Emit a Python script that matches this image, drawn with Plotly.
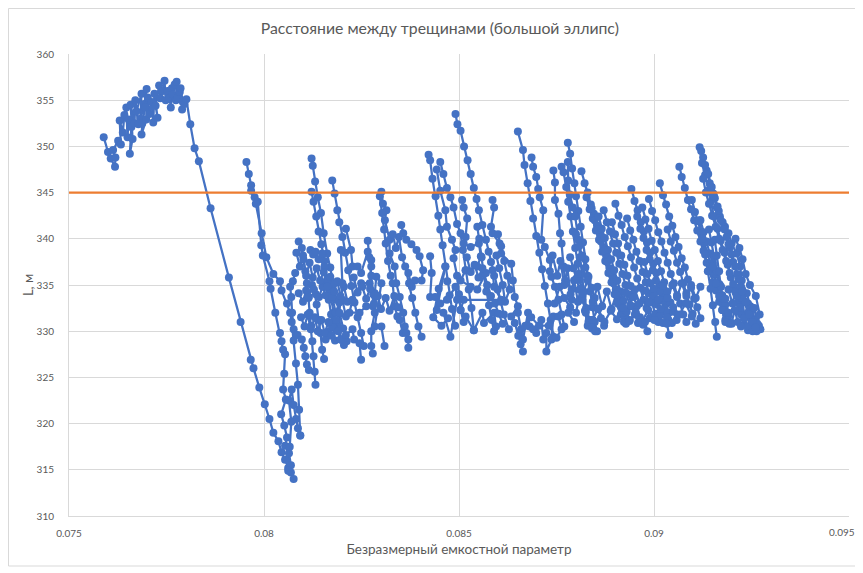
import plotly.graph_objects as go

# ---- data: hand-read segments (x = dimensionless capacity parameter, y = L, m) ----
sec_a = [(0.07589,351.0),(0.07600,349.4),(0.07607,348.7),(0.07618,347.8),(0.07619,348.8),(0.07613,349.6),
         (0.07626,350.6),(0.07633,350.2),(0.07630,352.8),(0.07638,351.5),(0.07642,353.4),(0.07647,354.2),
         (0.07650,351.0),(0.07653,352.9),(0.07660,352.1),(0.07656,349.2),(0.07663,350.8),(0.07658,354.5),
         (0.07668,352.5),(0.07670,355.0),(0.07678,352.4),(0.07673,353.8),(0.07686,355.7),(0.07683,353.0),
         (0.07693,354.6),(0.07699,356.2),(0.07695,354.2),(0.07688,352.5),(0.07686,351.3),(0.07698,352.9),
         (0.07702,355.3),(0.07706,353.5),(0.07712,354.8),(0.07716,352.6),(0.07719,355.7),(0.07727,353.1),
         (0.07722,354.4),(0.07731,356.6),(0.07734,355.2),(0.07741,356.0),(0.07745,357.1),(0.07748,355.0),
         (0.07753,356.0),(0.07758,355.2),(0.07761,354.2),(0.07764,356.3),(0.07771,356.7),(0.07766,355.6),
         (0.07774,355.0),(0.07776,357.0),(0.07779,355.3),(0.07784,355.9),(0.07786,356.3),(0.07792,354.8),
         (0.07790,354.0),(0.07796,354.6),(0.07801,355.1),(0.07811,352.4),(0.07822,349.8),(0.07833,348.4),
         (0.07863,343.3),(0.07910,335.8),(0.07940,331.0),(0.07966,326.9),(0.07973,326.0),(0.07988,323.9),
         (0.08002,322.1),(0.08014,320.5),(0.08024,319.0),(0.08037,318.1),(0.08045,316.9),(0.08054,316.1),
         (0.08062,315.2),(0.08069,314.7),(0.08076,314.0)]

sec_b1 = [(0.07955,348.3),(0.07961,347.0),(0.07967,345.8),(0.07976,344.5),(0.07984,344.0),(0.07993,339.3),
          (0.07997,338.2),(0.08014,335.4),(0.08017,334.6),(0.08029,332.0),(0.08041,329.8),(0.08045,328.9),
          (0.08049,328.0),(0.08054,327.5),(0.08052,325.4),(0.08049,323.7),(0.08056,322.6),(0.08044,321.0),
          (0.08052,319.8),(0.08059,318.5),(0.08054,317.6),(0.08064,316.8),(0.08069,315.5),(0.08062,314.9),
          (0.08066,317.5),(0.08070,320.2),(0.08064,322.5),(0.08071,323.7),(0.08076,322.0),(0.08082,320.5),
          (0.08087,319.5),(0.08093,318.7)]
sec_b2 = [(0.07967,345.2),(0.07979,343.8),(0.07994,340.6),(0.08006,338.0),(0.08024,336.2),(0.08041,335.4),
          (0.08045,334.4),(0.08059,333.0),(0.08067,332.0),(0.08071,331.0),(0.08076,329.0),(0.08082,326.5),
          (0.08087,324.2),(0.08090,321.5),(0.08093,318.7)]

sec_c1 = [(0.08122,348.7),(0.08125,347.9),(0.08131,346.2),(0.08138,344.5),(0.08146,342.8),(0.08153,340.6),
          (0.08162,338.4),(0.08170,336.9),(0.08178,335.2),(0.08186,333.4),(0.08194,331.9),(0.08203,330.3),
          (0.08212,328.9)]
sec_c2 = [(0.08122,345.1),(0.08127,344.0),(0.08134,342.4),(0.08140,340.8),(0.08147,339.4),(0.08155,337.6),
          (0.08162,335.5),(0.08170,333.9),(0.08178,332.0),(0.08186,330.6),(0.08197,329.1)]
sec_c3 = [(0.08175,346.3),(0.08181,344.9),(0.08188,343.1),(0.08193,341.8),(0.08201,340.2),(0.08208,338.5),
          (0.08216,336.6),(0.08224,334.9),(0.08232,333.1),(0.08240,331.5),(0.08249,329.8),(0.08256,328.4)]
sec_c4 = [(0.08089,339.7),(0.08097,339.0),(0.08101,337.8),(0.08106,336.5),(0.08110,335.2),(0.08114,333.6),
          (0.08117,332.0),(0.08121,330.6),(0.08124,328.9),(0.08127,327.3),(0.08130,325.6),(0.08132,324.2)]
sec_c5 = [(0.08080,336.3),(0.08074,335.4),(0.08067,334.8),(0.08070,333.7),(0.08072,332.0),(0.08076,330.2),
          (0.08086,329.6),(0.08097,329.1),(0.08102,328.2),(0.08106,327.3),(0.08110,326.4),(0.08115,325.8)]
sec_c6 = [(0.08119,338.8),(0.08126,338.3),(0.08132,338.6),(0.08140,337.8),(0.08149,338.4),(0.08155,337.0),
          (0.08160,335.3),(0.08166,333.4),(0.08172,331.8),(0.08178,330.4),(0.08182,329.0)]
sec_c7 = [(0.08089,334.1),(0.08100,333.2),(0.08108,334.4),(0.08115,333.7),(0.08123,335.0),(0.08133,334.0),
          (0.08141,333.7),(0.08150,334.8),(0.08158,333.9),(0.08166,334.6),(0.08175,333.7),(0.08184,332.0),
          (0.08193,333.1),(0.08201,333.4),(0.08210,331.6)]
sec_c8 = [(0.08128,334.5),(0.08135,332.9),(0.08140,331.2),(0.08145,329.8),(0.08149,328.0),(0.08154,327.0)]
sec_c9 = [(0.08158,329.1),(0.08166,330.0),(0.08175,330.5),(0.08184,331.2),(0.08190,330.0),(0.08197,329.1),
          (0.08205,328.5)]
sec_c10 = [(0.08083,338.5),(0.08092,337.0),(0.08100,338.2),(0.08108,336.0),(0.08117,337.4),(0.08125,335.8),
           (0.08135,336.8),(0.08144,335.5),(0.08153,336.4),(0.08162,334.8),(0.08170,335.9),(0.08180,334.3),
           (0.08188,335.4),(0.08196,333.8),(0.08205,334.8),(0.08214,333.2)]
sec_c11 = [(0.08095,331.5),(0.08104,330.5),(0.08112,331.8),(0.08120,330.2),(0.08130,331.5),(0.08138,330.0),
           (0.08147,331.2),(0.08156,329.8),(0.08165,331.0),(0.08173,329.5)]

sec_d1 = [(0.08301,345.1),(0.08305,343.8),(0.08314,343.1),(0.08310,342.0),(0.08322,339.9),(0.08322,338.4),
          (0.08335,337.0),(0.08339,335.2),(0.08348,333.7),(0.08357,332.0),(0.08361,330.5),(0.08370,329.1),
          (0.08370,328.2)]
sec_d2 = [(0.08297,344.6),(0.08303,342.8),(0.08308,341.0),(0.08312,339.5),(0.08318,337.6),(0.08325,336.0),
          (0.08330,335.2),(0.08335,332.7),(0.08342,331.6),(0.08348,331.2),(0.08356,329.8),(0.08365,329.8)]
sec_d3 = [(0.08352,341.5),(0.08357,340.6),(0.08365,339.9),(0.08378,339.4),(0.08391,338.8),(0.08399,338.1),
          (0.08408,336.6),(0.08404,335.5),(0.08387,335.5),(0.08379,334.8),(0.08370,336.3)]
sec_d4 = [(0.08210,341.1),(0.08223,338.8),(0.08227,337.0),(0.08240,337.0),(0.08249,336.3),(0.08266,338.6),
          (0.08275,337.7),(0.08275,337.0),(0.08271,335.2),(0.08249,335.2),(0.08227,333.4),(0.08219,332.0),
          (0.08245,332.0),(0.08262,332.7),(0.08279,332.7),(0.08284,334.1),(0.08288,335.9),(0.08301,335.2),
          (0.08284,330.5),(0.08301,330.5),(0.08309,328.4)]
sec_d5 = [(0.08197,338.8),(0.08201,335.2),(0.08193,332.0),(0.08197,329.1),(0.08210,329.6),(0.08227,330.2),
          (0.08231,329.1),(0.08245,328.7),(0.08249,326.9)]
sec_d6 = [(0.08266,339.8),(0.08270,338.0),(0.08275,336.0),(0.08280,334.0),(0.08284,332.0),(0.08275,330.0),
          (0.08275,328.4),(0.08279,327.6)]
sec_d7 = [(0.08422,349.1),(0.08426,348.5),(0.08432,346.5),(0.08440,344.6),(0.08447,342.5),(0.08452,341.0),
          (0.08458,339.3),(0.08465,337.0),(0.08470,335.4),(0.08476,333.9),(0.08482,332.4),(0.08490,330.6)]
sec_d8 = [(0.08452,348.3),(0.08460,347.0),(0.08469,345.5),(0.08478,344.5),(0.08486,343.4),(0.08495,341.6),
          (0.08504,340.6),(0.08510,338.8),(0.08517,336.6),(0.08525,334.5),(0.08532,332.5),(0.08538,330.1)]
sec_d9 = [(0.08443,347.5),(0.08452,345.2),(0.08465,343.1),(0.08469,341.3),(0.08482,339.9),(0.08491,338.8),
          (0.08486,337.9),(0.08495,336.0),(0.08500,334.0),(0.08504,332.3),(0.08512,331.0)]
sec_d10 = [(0.08426,338.1),(0.08430,336.3),(0.08426,333.7),(0.08439,333.7),(0.08452,333.0),(0.08469,333.4),
           (0.08491,334.8),(0.08495,333.4),(0.08478,329.4),(0.08460,332.0),(0.08443,332.3),(0.08465,337.0),
           (0.08448,334.6),(0.08434,331.5),(0.08455,330.6),(0.08472,331.4)]
sec_d11 = [(0.08330,340.5),(0.08338,339.0),(0.08346,340.2),(0.08354,338.0),(0.08362,337.0),(0.08372,335.2),
           (0.08380,333.6),(0.08388,332.0),(0.08396,330.5),(0.08404,329.4)]
sec_d12 = [(0.08230,335.8),(0.08240,334.2),(0.08252,334.8),(0.08262,333.5),(0.08272,334.6),(0.08282,333.0),
           (0.08292,333.8),(0.08300,332.4),(0.08312,333.6),(0.08322,332.2),(0.08334,333.8),(0.08345,332.6)]

sec_e1 = [(0.08491,353.5),(0.08496,352.4),(0.08504,351.7),(0.08513,350.0),(0.08522,348.5),(0.08530,347.0),
          (0.08538,345.5),(0.08545,344.3),(0.08551,343.1),(0.08560,341.5),(0.08569,339.9),(0.08576,338.6),
          (0.08582,337.5),(0.08590,336.0),(0.08599,334.5),(0.08607,333.2),(0.08615,331.8),(0.08628,330.2)]
sec_e2 = [(0.08586,344.2),(0.08590,343.4),(0.08582,341.3),(0.08586,340.6),(0.08604,339.5),(0.08608,338.4),
          (0.08634,337.3),(0.08638,335.5),(0.08643,333.7),(0.08651,332.7),(0.08634,331.6),(0.08643,330.9),
          (0.08652,329.5),(0.08658,328.6),(0.08664,327.8)]
sec_e3 = [(0.08508,344.2),(0.08512,343.4),(0.08521,342.2),(0.08517,340.2),(0.08512,339.5),(0.08530,339.1),
          (0.08551,339.5),(0.08556,338.1),(0.08547,337.0),(0.08517,336.6),(0.08504,335.5),(0.08530,334.8),
          (0.08547,334.5),(0.08569,336.3),(0.08586,336.6),(0.08590,334.8),(0.08608,333.4),(0.08512,333.4),
          (0.08504,332.3),(0.08517,331.6),(0.08538,330.1),(0.08560,332.0),(0.08564,330.9),(0.08590,332.0),
          (0.08595,330.5)]
sec_e4 = [(0.08547,341.3),(0.08552,340.0),(0.08558,338.0),(0.08563,336.2),(0.08570,334.3),(0.08577,332.8),
          (0.08584,331.2),(0.08590,330.0)]
sec_e5 = [(0.08651,351.6),(0.08664,349.6),(0.08668,348.0),(0.08676,346.0),(0.08683,344.1),(0.08690,342.2),
          (0.08698,340.3),(0.08706,338.5),(0.08713,336.7),(0.08720,334.9),(0.08728,333.0),(0.08735,331.2),
          (0.08742,329.4)]
sec_e6 = [(0.08686,348.8),(0.08690,347.8),(0.08698,346.7),(0.08703,345.4),(0.08707,344.5),(0.08716,343.1),
          (0.08711,339.9),(0.08720,339.1),(0.08733,337.7),(0.08737,335.9),(0.08746,334.8),(0.08755,333.4),
          (0.08763,331.8),(0.08770,330.5)]
sec_e7 = [(0.08651,332.0),(0.08659,330.2),(0.08664,329.1),(0.08677,332.0),(0.08681,330.5),(0.08690,330.2),
          (0.08698,329.8),(0.08711,331.2),(0.08716,329.1),(0.08724,329.8),(0.08724,327.8),(0.08737,329.1),
          (0.08742,331.6),(0.08755,331.6),(0.08763,330.2),(0.08750,329.3),(0.08730,330.6),(0.08705,330.6),
          (0.08685,331.5),(0.08670,330.6)]
sec_e8 = [(0.08742,347.4),(0.08746,346.1),(0.08746,344.2),(0.08755,342.7),(0.08759,340.6),(0.08763,339.5),
          (0.08768,337.0),(0.08772,335.5),(0.08789,334.5),(0.08789,333.4),(0.08780,332.0),(0.08795,331.0)]
sec_e9 = [(0.08763,347.8),(0.08768,347.2),(0.08775,345.6),(0.08780,344.0),(0.08786,342.4),(0.08792,340.8),
          (0.08798,339.0),(0.08804,337.3),(0.08810,335.6),(0.08817,333.8),(0.08823,332.2),(0.08830,330.6)]
sec_e10 = [(0.08779,350.4),(0.08785,349.2),(0.08790,347.6),(0.08796,346.0),(0.08800,344.6),(0.08806,343.0),
           (0.08812,341.3),(0.08818,339.6),(0.08824,337.8),(0.08830,336.0),(0.08836,334.3),(0.08842,332.6),
           (0.08848,331.0),(0.08854,330.0)]
sec_e11 = [(0.08779,348.3),(0.08780,346.3),(0.08784,344.8),(0.08792,343.4),(0.08798,342.4),(0.08806,339.9),
           (0.08810,338.0),(0.08815,336.2),(0.08820,334.3),(0.08826,332.5),(0.08832,331.0)]
sec_e12 = [(0.08733,336.5),(0.08740,338.2),(0.08752,336.0),(0.08760,337.6),(0.08770,335.0),(0.08778,336.8),
           (0.08786,334.0),(0.08795,335.5),(0.08805,333.2),(0.08812,334.6),(0.08800,332.0),(0.08785,332.6),
           (0.08770,333.6),(0.08758,334.8),(0.08745,333.0)]
sec_e13 = [(0.08600,340.5),(0.08608,339.2),(0.08616,337.6),(0.08624,336.0),(0.08630,334.5),(0.08618,333.2),
           (0.08612,335.0),(0.08603,336.8),(0.08596,338.2)]
sec_e14 = [(0.08520,338.0),(0.08530,336.4),(0.08540,337.2),(0.08550,335.8),(0.08560,336.8),(0.08572,335.0),
           (0.08582,333.8),(0.08592,333.0),(0.08602,331.9),(0.08612,330.8)]

sec_f1 = [(0.08814,347.3),(0.08822,346.0),(0.08830,345.0),(0.08838,343.7),(0.08846,342.7),(0.08854,341.4),
          (0.08862,340.4),(0.08870,339.1),(0.08878,338.1),(0.08886,336.8),(0.08894,335.8),(0.08902,334.5),
          (0.08910,333.5),(0.08918,332.3),(0.08926,331.4)]
sec_f2 = [(0.08827,344.5),(0.08835,343.2),(0.08843,342.2),(0.08851,340.9),(0.08859,339.9),(0.08867,338.6),
          (0.08875,337.6),(0.08883,336.3),(0.08891,335.3),(0.08899,334.0),(0.08907,333.0),(0.08915,331.8),
          (0.08923,331.0)]
sec_f3 = [(0.08840,343.3),(0.08848,342.0),(0.08856,341.0),(0.08864,339.7),(0.08872,338.7),(0.08880,337.5),
          (0.08888,336.4),(0.08896,335.2),(0.08904,334.2),(0.08912,332.9),(0.08920,332.0),(0.08928,330.8)]
sec_f4 = [(0.08858,342.4),(0.08866,341.1),(0.08874,340.1),(0.08882,338.8),(0.08890,337.8),(0.08898,336.6),
          (0.08906,335.5),(0.08914,334.3),(0.08922,333.3),(0.08930,332.1),(0.08938,331.2)]
sec_f5 = [(0.08871,343.1),(0.08879,341.8),(0.08887,340.8),(0.08895,339.5),(0.08903,338.5),(0.08911,337.3),
          (0.08919,336.2),(0.08927,335.0),(0.08935,334.0),(0.08943,332.7),(0.08951,331.8),(0.08959,330.9)]
sec_f6 = [(0.08892,341.8),(0.08900,340.5),(0.08908,339.5),(0.08916,338.2),(0.08924,337.2),(0.08932,336.0),
          (0.08940,334.9),(0.08948,333.7),(0.08956,332.7),(0.08964,331.5),(0.08972,330.7)]
sec_f7 = [(0.08901,343.8),(0.08909,342.5),(0.08917,341.5),(0.08925,340.2),(0.08933,339.2),(0.08941,338.0),
          (0.08949,336.9),(0.08957,335.7),(0.08965,334.7),(0.08973,333.4),(0.08981,332.5),(0.08989,331.4)]
sec_f8 = [(0.08931,342.2),(0.08939,340.9),(0.08947,339.9),(0.08955,338.6),(0.08963,337.6),(0.08971,336.4),
          (0.08979,335.3),(0.08987,334.1),(0.08995,333.1),(0.09003,331.9),(0.09011,331.0)]
sec_f9 = [(0.08942,345.4),(0.08950,344.1),(0.08958,343.1),(0.08966,341.8),(0.08974,340.8),(0.08982,339.6),
          (0.08990,338.5),(0.08998,337.3),(0.09006,336.3),(0.09014,335.0),(0.09022,334.1),(0.09030,332.9),
          (0.09038,332.0),(0.09046,330.9)]
sec_f10 = [(0.08957,342.4),(0.08965,341.1),(0.08973,340.1),(0.08981,338.8),(0.08989,337.8),(0.08997,336.6),
           (0.09005,335.5),(0.09013,334.3),(0.09021,333.3),(0.09029,332.1),(0.09037,331.2)]
sec_f11 = [(0.08970,343.4),(0.08978,342.1),(0.08986,341.1),(0.08994,339.8),(0.09002,338.8),(0.09010,337.6),
           (0.09018,336.5),(0.09026,335.3),(0.09034,334.3),(0.09042,333.1),(0.09050,332.1),(0.09058,331.2)]
sec_f12 = [(0.08987,344.3),(0.08995,343.0),(0.09003,342.0),(0.09011,340.7),(0.09019,339.7),(0.09027,338.5),
           (0.09035,337.4),(0.09043,336.2),(0.09051,335.2),(0.09059,333.9),(0.09067,333.0),(0.09075,331.8),
           (0.09083,331.0)]
sec_f13 = [(0.09015,346.0),(0.09023,344.7),(0.09031,343.7),(0.09039,342.4),(0.09047,341.4),(0.09055,340.2),
           (0.09063,339.1),(0.09071,337.9),(0.09079,336.9),(0.09087,335.6),(0.09095,334.7),(0.09103,333.5),
           (0.09111,332.6),(0.09119,331.4)]
sec_f14 = [(0.09065,347.8),(0.09071,346.7),(0.09079,345.5),(0.09087,344.2),(0.09095,343.2),(0.09103,342.0),
           (0.09111,340.9),(0.09119,339.7),(0.09127,338.7),(0.09135,337.4),(0.09143,336.5),(0.09151,335.3),
           (0.09159,334.4),(0.09167,333.2),(0.09175,332.3),(0.09183,331.2)]
sec_f15 = [(0.09097,344.2),(0.09105,342.9),(0.09113,341.9),(0.09121,340.6),(0.09129,339.6),(0.09137,338.4),
           (0.09145,337.3),(0.09153,336.1),(0.09161,335.1),(0.09169,333.8),(0.09177,332.9),(0.09185,331.7)]
sec_f16 = [(0.09119,342.0),(0.09127,340.7),(0.09135,339.7),(0.09143,338.4),(0.09151,337.4),(0.09159,336.2),
           (0.09167,335.1),(0.09175,333.9),(0.09183,332.9),(0.09191,331.7),(0.09199,330.8)]
sec_f17 = [(0.08800,340.5),(0.08808,339.2),(0.08816,338.2),(0.08824,336.9),(0.08832,335.9),(0.08840,334.7),
           (0.08848,333.6),(0.08856,332.4),(0.08864,331.4),(0.08872,330.6)]
sec_f18 = [(0.08785,338.0),(0.08793,336.8),(0.08801,335.7),(0.08809,334.5),(0.08817,333.4),(0.08825,332.2),
           (0.08833,331.2),(0.08841,330.3)]
sec_f19 = [(0.09035,341.0),(0.09043,339.7),(0.09051,338.7),(0.09059,337.4),(0.09067,336.4),(0.09075,335.2),
           (0.09083,334.1),(0.09091,332.9),(0.09099,331.9),(0.09107,330.8)]
sec_f20 = [(0.08975,337.5),(0.08983,336.2),(0.08991,335.2),(0.08999,333.9),(0.09007,332.9),(0.09015,331.7),
           (0.09023,330.9)]
sec_f21 = [(0.08805,336.2),(0.08817,334.1),(0.08830,335.5),(0.08843,333.2),(0.08855,334.8),(0.08867,332.7),
           (0.08879,334.3),(0.08891,332.4),(0.08903,334.0),(0.08915,332.6),(0.08927,334.2),(0.08939,332.8),
           (0.08951,334.5),(0.08963,333.0),(0.08975,334.4),(0.08987,333.2),(0.08999,334.6),(0.09011,333.4),
           (0.09023,334.9),(0.09035,333.6),(0.09047,335.0),(0.09059,333.7),(0.09071,335.2),(0.09083,333.8),
           (0.09095,335.0),(0.09107,333.6),(0.09119,334.8)]
sec_f22 = [(0.08825,332.0),(0.08841,331.2),(0.08857,332.4),(0.08873,331.0),(0.08889,332.2),(0.08905,331.3),
           (0.08921,332.5),(0.08937,331.1),(0.08953,332.0),(0.08969,331.0),(0.08985,332.3),(0.09001,331.2),
           (0.09017,332.4),(0.09033,331.5),(0.09049,332.6),(0.09065,331.8),(0.09081,333.0),(0.09097,331.6)]
sec_f23 = [(0.08843,331.2),(0.08849,330.0)]
sec_f24 = [(0.08977,331.0),(0.08983,330.0)]
sec_f25 = [(0.09033,330.8),(0.09039,329.6)]

sec_g1 = [(0.09121,349.5),(0.09126,348.8),(0.09135,347.4),(0.09143,346.0),(0.09152,344.9),(0.09161,343.4),
          (0.09169,342.4),(0.09182,341.3),(0.09191,340.6),(0.09199,339.5),(0.09212,338.4),(0.09221,337.0),
          (0.09225,335.5),(0.09238,334.1),(0.09247,332.7),(0.09260,331.2),(0.09273,330.2)]
sec_g2 = [(0.09117,349.9),(0.09123,348.2),(0.09131,346.9),(0.09139,345.2),(0.09146,344.0),(0.09154,342.4),
          (0.09163,341.1),(0.09171,339.8),(0.09181,338.5),(0.09189,337.2),(0.09197,335.8),(0.09206,334.5),
          (0.09215,333.1),(0.09223,331.8),(0.09231,330.7),(0.09241,330.1)]
sec_g3 = [(0.09131,348.0),(0.09139,347.0),(0.09148,345.6),(0.09156,344.4),(0.09166,343.0),(0.09176,341.8),
          (0.09186,340.2),(0.09194,339.0),(0.09203,337.5),(0.09213,336.2),(0.09221,334.8),(0.09231,333.3),
          (0.09241,332.0),(0.09251,330.8),(0.09263,330.0),(0.09269,330.6)]
sec_g4 = [(0.09141,341.0),(0.09147,339.6),(0.09154,338.0),(0.09161,336.5),(0.09169,335.0),(0.09177,333.5),
          (0.09185,332.0),(0.09193,330.8)]
sec_g5 = [(0.09117,342.0),(0.09124,340.0),(0.09131,338.3),(0.09138,336.5),(0.09145,334.6),(0.09151,332.8),
          (0.09157,331.0),(0.09161,329.4)]
sec_g6 = [(0.09156,339.9),(0.09161,338.2),(0.09167,336.5),(0.09172,334.8),(0.09178,332.3),(0.09183,331.0)]
sec_g7 = [(0.09191,334.5),(0.09201,333.0),(0.09209,334.2),(0.09217,332.2),(0.09225,333.6),(0.09233,331.5),
          (0.09241,333.0),(0.09249,331.2),(0.09257,332.5),(0.09265,330.8),(0.09271,331.8),(0.09261,333.8),
          (0.09246,335.0),(0.09235,336.2),(0.09227,337.8),(0.09219,339.0),(0.09209,340.0)]
sec_g8 = [(0.09126,346.5),(0.09133,345.0),(0.09141,343.8),(0.09149,342.5),(0.09158,341.3),(0.09167,340.0),
          (0.09176,338.8),(0.09185,337.6),(0.09194,336.3),(0.09203,335.1),(0.09212,333.8),(0.09221,332.6),
          (0.09231,331.4),(0.09241,330.5),(0.09253,330.0)]
sec_g9 = [(0.09146,345.5),(0.09154,344.6),(0.09163,343.5),(0.09171,342.0),(0.09181,341.0),(0.09191,339.4),
          (0.09199,338.3),(0.09208,337.0),(0.09217,335.6),(0.09226,334.3),(0.09235,333.1),(0.09244,331.8),
          (0.09253,331.0),(0.09261,330.4)]
sec_g10 = [(0.09151,337.0),(0.09159,335.2),(0.09167,333.8),(0.09175,332.3),(0.09183,333.5),(0.09191,332.0),
           (0.09199,330.9),(0.09207,332.3),(0.09215,331.0),(0.09223,330.5)]

threshold_x = [0.075, 0.095]
threshold_y = [345, 345]

x_tickvals = [0.075, 0.08, 0.085, 0.09, 0.095]
x_ticktext = ["0.075", "0.08", "0.085", "0.09", "0.095"]

segments = [sec_a, sec_b1, sec_b2,
            sec_c1, sec_c2, sec_c3, sec_c4, sec_c5, sec_c6, sec_c7, sec_c8, sec_c9, sec_c10, sec_c11,
            sec_d1, sec_d2, sec_d3, sec_d4, sec_d5, sec_d6, sec_d7, sec_d8, sec_d9, sec_d10, sec_d11, sec_d12,
            sec_e1, sec_e2, sec_e3, sec_e4, sec_e5, sec_e6, sec_e7, sec_e8, sec_e9, sec_e10, sec_e11, sec_e12,
            sec_e13, sec_e14,
            sec_f1, sec_f2, sec_f3, sec_f4, sec_f5, sec_f6, sec_f7, sec_f8, sec_f9, sec_f10, sec_f11, sec_f12,
            sec_f13, sec_f14, sec_f15, sec_f16, sec_f17, sec_f18, sec_f19, sec_f20, sec_f21, sec_f22,
            sec_f23, sec_f24, sec_f25,
            sec_g1, sec_g2, sec_g3, sec_g4, sec_g5, sec_g6, sec_g7, sec_g8, sec_g9, sec_g10]

xs, ys = [], []
for seg in segments:
    for px, py in seg:
        xs.append(px)
        ys.append(py)
    xs.append(None)
    ys.append(None)

BLUE = "#4472C4"
ORANGE = "#ED7D31"
GRAY_TXT = "#595959"
GRID = "#D9D9D9"
FONT = "Lato, 'Open Sans', sans-serif"

fig = go.Figure()
fig.add_trace(go.Scatter(x=xs, y=ys, mode="lines+markers", connectgaps=False,
                         line=dict(color=BLUE, width=2.25),
                         marker=dict(color=BLUE, size=8),
                         showlegend=False, hoverinfo="skip"))
fig.add_trace(go.Scatter(x=threshold_x, y=threshold_y, mode="lines",
                         line=dict(color=ORANGE, width=2.25),
                         showlegend=False, hoverinfo="skip"))

# page has an 8px body margin; the figure is sized to fit the 863x573 window
W, H = 855, 565
L, R, T, B = 61, 14, 46, 57
pw, ph = W - L - R, H - T - B

fig.update_layout(
    width=W, height=H,
    margin=dict(l=L, r=R, t=T, b=B, autoexpand=False),
    paper_bgcolor="white", plot_bgcolor="white",
    font=dict(family=FONT, color=GRAY_TXT),
    title=dict(text="Расстояние между трещинами (большой эллипс)",
               x=0.505, xanchor="center", y=1 - 20 / H, yanchor="middle",
               font=dict(size=15.8, color=GRAY_TXT, family=FONT)),
    xaxis=dict(range=[0.075, 0.095], tickvals=x_tickvals,
               ticktext=x_ticktext[:-1] + [""],
               showgrid=True, gridcolor=GRID, gridwidth=1,
               showline=True, linecolor=GRID, linewidth=1, mirror=False,
               zeroline=False, ticks="", ticklabelstandoff=8,
               tickfont=dict(size=10, color=GRAY_TXT, family=FONT),
               title=dict(text="Безразмерный емкостной параметр", standoff=6,
                          font=dict(size=13.5, color=GRAY_TXT, family=FONT))),
    yaxis=dict(range=[310, 360], dtick=5, tick0=310,
               showgrid=True, gridcolor=GRID, gridwidth=1,
               showline=True, linecolor=GRID, linewidth=1,
               zeroline=False, ticks="", ticklabelstandoff=12,
               tickfont=dict(size=10, color=GRAY_TXT, family=FONT),
               title=dict(text="L, м", standoff=0,
                          font=dict(size=13, color=GRAY_TXT, family=FONT))),
)

# last x tick label, nudged left so it stays inside the chart area (as in the original)
fig.add_annotation(x=x_tickvals[-1], xref="x", y=0, yref="paper",
                   text=x_ticktext[-1], showarrow=False,
                   xanchor="right", yanchor="top", xshift=8, yshift=-8,
                   font=dict(size=10, color=GRAY_TXT, family=FONT))

# chart-area border
fig.add_shape(type="rect", xref="paper", yref="paper",
              x0=(0.5 - L) / pw, x1=(849 - L) / pw,
              y0=-(558 - (H - B)) / ph, y1=1 + (T - 0.5) / ph,
              line=dict(color=GRID, width=1), fillcolor="rgba(0,0,0,0)", layer="below")

fig.write_html("out.html")
